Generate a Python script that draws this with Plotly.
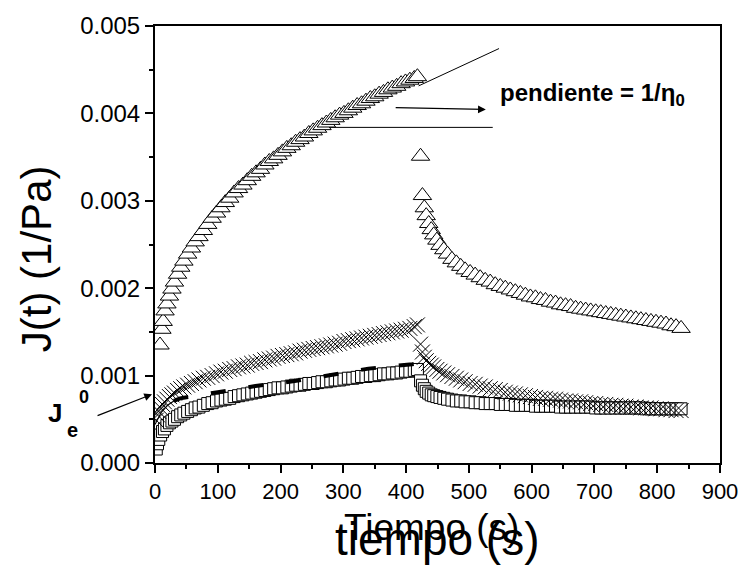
import plotly.graph_objects as go

# ---------------- data ----------------
T_CREEP = [2, 4, 6, 9, 12, 15, 19, 23, 27, 31, 36, 41, 46, 52, 58, 64, 70, 77, 84, 91,
           98, 105, 112, 119, 126, 133, 140, 147, 154, 161, 168, 175, 182, 189, 196, 203,
           210, 217, 224, 231, 238, 245, 252, 259, 266, 273, 280, 287, 294, 301, 308, 315,
           322, 329, 336, 343, 350, 357, 364, 371, 378, 385, 392, 399, 406, 413, 418]

J_SQUARE_CREEP = [0.00016, 0.00022, 0.00027, 0.00032, 0.00036, 0.00039, 0.00043, 0.00046, 0.00048, 0.00050,
                  0.00053, 0.00055, 0.00057, 0.00059, 0.00061, 0.00063, 0.00064, 0.00066, 0.00068, 0.00069,
                  0.00071, 0.00072, 0.00073, 0.00074, 0.00076, 0.00077, 0.00078, 0.00079, 0.00080, 0.00081,
                  0.00082, 0.00083, 0.00084, 0.00085, 0.00086, 0.00086, 0.00087, 0.00088, 0.00089, 0.00089,
                  0.00090, 0.00091, 0.00091, 0.00092, 0.00093, 0.00093, 0.00094, 0.00095, 0.00095, 0.00096,
                  0.00097, 0.00097, 0.00098, 0.00099, 0.00099, 0.00100, 0.00100, 0.00101, 0.00102, 0.00102,
                  0.00103, 0.00103, 0.00104, 0.00105, 0.00105, 0.00106, 0.00107]

J_CROSS_CREEP = [0.00049, 0.00055, 0.00059, 0.00063, 0.00067, 0.00070, 0.00073, 0.00076, 0.00078, 0.00080,
                 0.00083, 0.00085, 0.00087, 0.00089, 0.00091, 0.00093, 0.00095, 0.00097, 0.00098, 0.00100,
                 0.00102, 0.00104, 0.00105, 0.00107, 0.00108, 0.00110, 0.00111, 0.00112, 0.00114, 0.00115,
                 0.00116, 0.00118, 0.00119, 0.00120, 0.00122, 0.00123, 0.00124, 0.00125, 0.00126, 0.00128,
                 0.00129, 0.00130, 0.00131, 0.00132, 0.00133, 0.00134, 0.00135, 0.00136, 0.00137, 0.00139,
                 0.00140, 0.00141, 0.00142, 0.00143, 0.00144, 0.00145, 0.00146, 0.00147, 0.00148, 0.00149,
                 0.00150, 0.00151, 0.00152, 0.00153, 0.00154, 0.00156, 0.00158]

T_TRI_CREEP = [8, 11, 13, 16, 19, 23, 27, 31, 36, 41, 46, 52, 58, 64, 70, 77, 84, 91,
               98, 105, 112, 119, 126, 133, 140, 147, 154, 161, 168, 175, 182, 189, 196, 203,
               210, 217, 224, 231, 238, 245, 252, 259, 266, 273, 280, 287, 294, 301, 308, 315,
               322, 329, 336, 343, 350, 357, 364, 371, 378, 385, 392, 399, 406, 413, 418]

J_TRI_CREEP = [0.00135, 0.00153, 0.00162, 0.00174, 0.00182, 0.00191, 0.00199, 0.00207, 0.00216, 0.00224,
               0.00231, 0.00239, 0.00246, 0.00253, 0.00259, 0.00266, 0.00273, 0.00280,
               0.00286, 0.00292, 0.00298, 0.00303, 0.00309, 0.00314, 0.00318, 0.00323, 0.00328, 0.00332,
               0.00336, 0.00341, 0.00345, 0.00348, 0.00352, 0.00356, 0.00360, 0.00363, 0.00367, 0.00370,
               0.00373, 0.00377, 0.00380, 0.00383, 0.00386, 0.00389, 0.00392, 0.00395, 0.00398, 0.00400,
               0.00403, 0.00406, 0.00409, 0.00411, 0.00414, 0.00417, 0.00419, 0.00422, 0.00424, 0.00427,
               0.00429, 0.00431, 0.00434, 0.00436, 0.00438, 0.00440, 0.00442]

T_RECOV = [423, 426, 429, 432, 436, 440, 444, 449, 454, 460, 466, 473, 480, 487, 494,
           502, 510, 518, 526, 534, 542, 550, 558, 566, 574, 582, 590, 598, 606, 614,
           622, 630, 638, 646, 654, 662, 670, 678, 686, 694, 702, 710, 718, 726, 734,
           742, 750, 758, 766, 774, 782, 790, 798, 806, 814, 822, 830, 838]

J_TRI_RECOV = [0.00351, 0.00306, 0.00292, 0.00283, 0.00274, 0.00267, 0.00261, 0.00255, 0.00249, 0.00244,
               0.00239, 0.00233, 0.00229, 0.00225, 0.00221, 0.00218, 0.00215, 0.00212, 0.00209, 0.00207,
               0.00204, 0.00202, 0.00200, 0.00198, 0.00196, 0.00194, 0.00192, 0.00190, 0.00189, 0.00187,
               0.00186, 0.00184, 0.00183, 0.00181, 0.00180, 0.00179, 0.00177, 0.00176, 0.00175, 0.00174,
               0.00173, 0.00172, 0.00171, 0.00170, 0.00169, 0.00168, 0.00167, 0.00166, 0.00165, 0.00164,
               0.00163, 0.00162, 0.00161, 0.00160, 0.00159, 0.00157, 0.00156, 0.00154]

J_CROSS_RECOV = [0.00136, 0.00127, 0.00121, 0.00117, 0.00114, 0.00112, 0.00110, 0.00107, 0.00105, 0.00103,
                 0.00101, 0.00099, 0.00097, 0.00095, 0.00093, 0.00091, 0.00090, 0.00088, 0.00087, 0.00085,
                 0.00084, 0.00083, 0.00081, 0.00080, 0.00079, 0.00078, 0.00077, 0.00076, 0.00075, 0.00074,
                 0.00074, 0.00073, 0.00073, 0.00072, 0.00071, 0.00071, 0.00070, 0.00070, 0.00069, 0.00068,
                 0.00068, 0.00067, 0.00067, 0.00066, 0.00066, 0.00065, 0.00065, 0.00064, 0.00064, 0.00063,
                 0.00063, 0.00063, 0.00062, 0.00062, 0.00061, 0.00061, 0.00060, 0.00060]

J_SQUARE_RECOV = [0.00094, 0.00089, 0.00085, 0.00082, 0.00080, 0.00078, 0.00077, 0.00076, 0.00075, 0.00074,
                  0.00073, 0.00072, 0.00071, 0.00071, 0.00070, 0.00070, 0.00069, 0.00069, 0.00068, 0.00068,
                  0.00068, 0.00067, 0.00067, 0.00067, 0.00066, 0.00066, 0.00066, 0.00066, 0.00065, 0.00065,
                  0.00065, 0.00065, 0.00065, 0.00064, 0.00064, 0.00064, 0.00064, 0.00064, 0.00064, 0.00064,
                  0.00063, 0.00063, 0.00063, 0.00063, 0.00063, 0.00063, 0.00063, 0.00063, 0.00063, 0.00063,
                  0.00062, 0.00062, 0.00062, 0.00062, 0.00062, 0.00062, 0.00062, 0.00062]

# fitted curve through the square series (starts at Je0)
FIT_T = [0, 10, 20, 30, 40, 100, 160, 225, 280, 340, 410, 420]
FIT_J = [0.00044, 0.00058, 0.00066, 0.00071, 0.00074, 0.00081, 0.00088, 0.00094, 0.00101, 0.00108, 0.00113, 0.00114]

# tangent (slope = 1/eta0) and horizontal reference line
TANGENT_T = [420, 548]
TANGENT_J = [0.004315, 0.004742]
HLINE_T = [275, 538]
HLINE_J = [0.00384, 0.00384]

X_TICKS = [0, 100, 200, 300, 400, 500, 600, 700, 800, 900]
Y_TICKS = [0.000, 0.001, 0.002, 0.003, 0.004, 0.005]

# ---------------- figure ----------------
BLACK = "#000000"
FONT = "Liberation Sans, Arial, sans-serif"

fig = go.Figure()

fig.add_trace(go.Scatter(x=HLINE_T, y=HLINE_J, mode="lines",
                         line=dict(color=BLACK, width=1), hoverinfo="skip"))
fig.add_trace(go.Scatter(x=TANGENT_T, y=TANGENT_J, mode="lines",
                         line=dict(color=BLACK, width=1), hoverinfo="skip"))

sq_marker = dict(symbol="square", size=12, color="white", line=dict(color=BLACK, width=1))
fig.add_trace(go.Scatter(x=T_CREEP, y=J_SQUARE_CREEP, mode="markers", marker=sq_marker))
fig.add_trace(go.Scatter(x=T_RECOV, y=J_SQUARE_RECOV, mode="markers", marker=sq_marker))

x_marker = dict(symbol="x-thin", size=15, color=BLACK, line=dict(color=BLACK, width=1))
fig.add_trace(go.Scatter(x=T_CREEP, y=J_CROSS_CREEP, mode="markers", marker=x_marker))
fig.add_trace(go.Scatter(x=T_RECOV, y=J_CROSS_RECOV, mode="markers", marker=x_marker))

tri_marker = dict(symbol="triangle-up", size=16, color="white", line=dict(color=BLACK, width=1))
fig.add_trace(go.Scatter(x=T_TRI_CREEP, y=J_TRI_CREEP, mode="markers", marker=tri_marker))
fig.add_trace(go.Scatter(x=T_RECOV, y=J_TRI_RECOV, mode="markers", marker=tri_marker))

fig.add_trace(go.Scatter(x=FIT_T[:5], y=FIT_J[:5], mode="lines",
                         line=dict(color=BLACK, width=1.2), hoverinfo="skip"))
fig.add_trace(go.Scatter(x=FIT_T[3:], y=FIT_J[3:], mode="lines",
                         line=dict(color=BLACK, width=4, dash="15px,23px"), hoverinfo="skip"))

axis_common = dict(
    showline=True, linecolor=BLACK, linewidth=2, mirror=True,
    ticks="outside", ticklen=8, tickwidth=2, tickcolor=BLACK,
    showgrid=False, zeroline=False,
)

fig.update_xaxes(range=[0, 900], tickvals=X_TICKS, ticktext=[str(v) for v in X_TICKS],
                 tickfont=dict(family=FONT, size=22, color=BLACK),
                 minor=dict(tickvals=[50, 150, 250, 350, 450, 550, 650, 750, 850],
                            ticks="outside", ticklen=4, tickwidth=1.5, tickcolor=BLACK),
                 **axis_common)
fig.update_yaxes(range=[0, 0.005], tickvals=Y_TICKS, ticktext=[f"{v:.3f}" for v in Y_TICKS],
                 tickfont=dict(family=FONT, size=24, color=BLACK),
                 minor=dict(tickvals=[0.0005, 0.0015, 0.0025, 0.0035, 0.0045],
                            ticks="outside", ticklen=4, tickwidth=1.5, tickcolor=BLACK),
                 **axis_common)

annotations = [
    # y-axis title
    dict(text="J(t) (1/Pa)", xref="paper", yref="paper", x=-0.2098, y=0.4674,
         xanchor="center", yanchor="middle", textangle=-90, showarrow=False,
         font=dict(family=FONT, size=42, color=BLACK)),
    # doubled x-axis titles
    dict(text="Tiempo (s)", xref="paper", yref="paper", x=0.4895, y=-0.1480,
         xanchor="center", yanchor="middle", showarrow=False,
         font=dict(family=FONT, size=37, color=BLACK)),
    dict(text="tiempo (s)", xref="paper", yref="paper", x=0.4983, y=-0.1746,
         xanchor="center", yanchor="middle", showarrow=False,
         font=dict(family=FONT, size=46, color=BLACK)),
    # slope label and arrow
    dict(text="<b>pendiente = 1/η<sub>0</sub></b>", xref="x", yref="y", x=546, y=0.00422,
         xanchor="left", yanchor="middle", showarrow=False,
         font=dict(family=FONT, size=24, color=BLACK)),
    dict(text="", xref="x", yref="y", x=527, y=0.004045, axref="x", ayref="y",
         ax=381, ay=0.004067, showarrow=True, arrowhead=2, arrowsize=1.3,
         arrowwidth=1.2, arrowcolor=BLACK),
    # Je0 label and arrow
    dict(text="<b>J</b>", xref="paper", yref="paper", x=-0.1770, y=0.1146,
         xanchor="center", yanchor="middle", showarrow=False,
         font=dict(family=FONT, size=26, color=BLACK)),
    dict(text="<b>e</b>", xref="paper", yref="paper", x=-0.1460, y=0.0764,
         xanchor="center", yanchor="middle", showarrow=False,
         font=dict(family=FONT, size=20, color=BLACK)),
    dict(text="<b>0</b>", xref="paper", yref="paper", x=-0.1259, y=0.1506,
         xanchor="center", yanchor="middle", showarrow=False,
         font=dict(family=FONT, size=18, color=BLACK)),
    dict(text="", xref="paper", yref="paper", x=-0.0052, y=0.1573,
         ax=-56, ay=22, showarrow=True, arrowhead=2, arrowsize=1.3,
         arrowwidth=1.2, arrowcolor=BLACK),
]

fig.update_layout(
    width=750, height=570,
    margin=dict(l=155, r=23, t=18, b=107),
    paper_bgcolor="white", plot_bgcolor="white",
    showlegend=False,
    annotations=annotations,
)

fig.write_html("out.html")
